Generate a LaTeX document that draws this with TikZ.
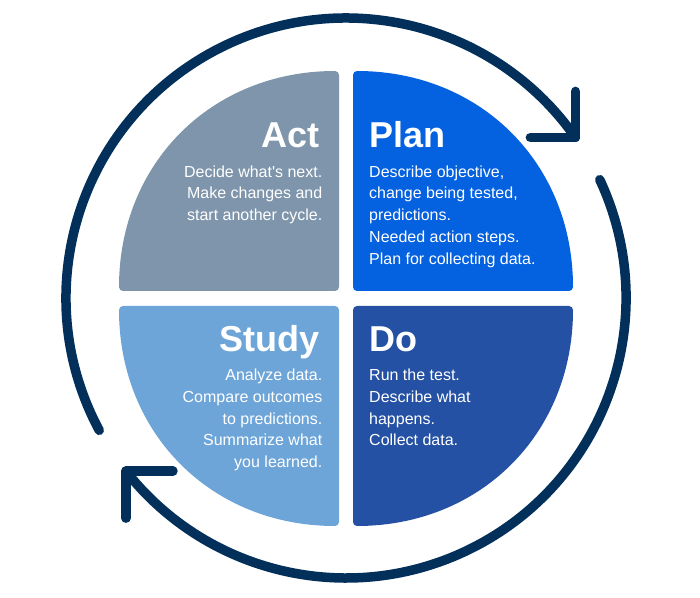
\documentclass[tikz,border=0pt]{standalone}
\usepackage{fontspec}
\setmainfont{Liberation Sans}
\definecolor{actgrey}{HTML}{7E95AB}
\definecolor{planblue}{HTML}{0461DF}
\definecolor{studyblue}{HTML}{6EA5D8}
\definecolor{doblue}{HTML}{2451A3}
\definecolor{ringnavy}{HTML}{03305A}
\begin{document}
\begin{tikzpicture}
[
    x=1pt, y=1pt,
    quad/.style={rounded corners=4pt},
    ring/.style={draw=ringnavy, line width=9.5pt, line cap=round, line join=round},
    title/.style={text=white, inner sep=0pt, font=\fontsize{36}{36}\selectfont\bfseries},
    body/.style={text=white, inner sep=0pt, font=\fontsize{16}{21.7}\selectfont}
]
    \useasboundingbox (0,0) rectangle (700,597);
    % the four quarters
    \fill [quad, actgrey] (339,306) -- (119,306) .. controls (119,433.6) and (211.4,526) .. (339,526) -- cycle;
    \fill [quad, planblue] (353,306) -- (573,306) .. controls (573,433.6) and (480.6,526) .. (353,526) -- cycle;
    \fill [quad, studyblue] (339,291) -- (119,291) .. controls (119,163.4) and (211.4,71) .. (339,71) -- cycle;
    \fill [quad, doblue] (353,291) -- (573,291) .. controls (573,163.4) and (480.6,71) .. (353,71) -- cycle;
    % titles and texts (texts sit on the baseline of their last line)
    \node [title, anchor=base east] (act) at (320,449.5) {Act};
    \node [body, anchor=base east, align=right] (acttext) at (322.5,376.3)
        {Decide what\textquotesingle s next.\\Make changes and\\start another cycle.};
    \node [title, anchor=base west] (plan) at (369,449.5) {Plan};
    \node [body, anchor=base west, align=left] (plantext) at (369,332.9)
        {Describe objective,\\change being tested,\\predictions.\\Needed action steps.\\Plan for collecting data.};
    \node [title, anchor=base east] (study) at (320,245.3) {Study};
    \node [body, anchor=base east, align=right] (studytext) at (322.5,129.5)
        {Analyze data.\\Compare outcomes\\to predictions.\\Summarize what\\you learned.};
    \node [title, anchor=base west] (do) at (369,245.3) {Do};
    \node [body, anchor=base west, align=left] (dotext) at (369,151.2)
        {Run the test.\\Describe what\\happens.\\Collect data.};
    % the cycle arrows
    \coordinate (centre) at (346,299);
    \draw [ring] ([shift={(208.2:280)}]centre) arc [start angle=208.2, end angle=35, radius=280] coordinate (tipA);
    \draw [ring] (tipA) ++(-45,0) -- (tipA) -- ++(0,46);
    \draw [ring] ([shift={(25:280)}]centre) arc [start angle=25, end angle=-141.8, radius=280] coordinate (tipB);
    \draw [ring] (tipB) ++(47,0) -- (tipB) -- ++(0,-47);
\end{tikzpicture}
\end{document}
